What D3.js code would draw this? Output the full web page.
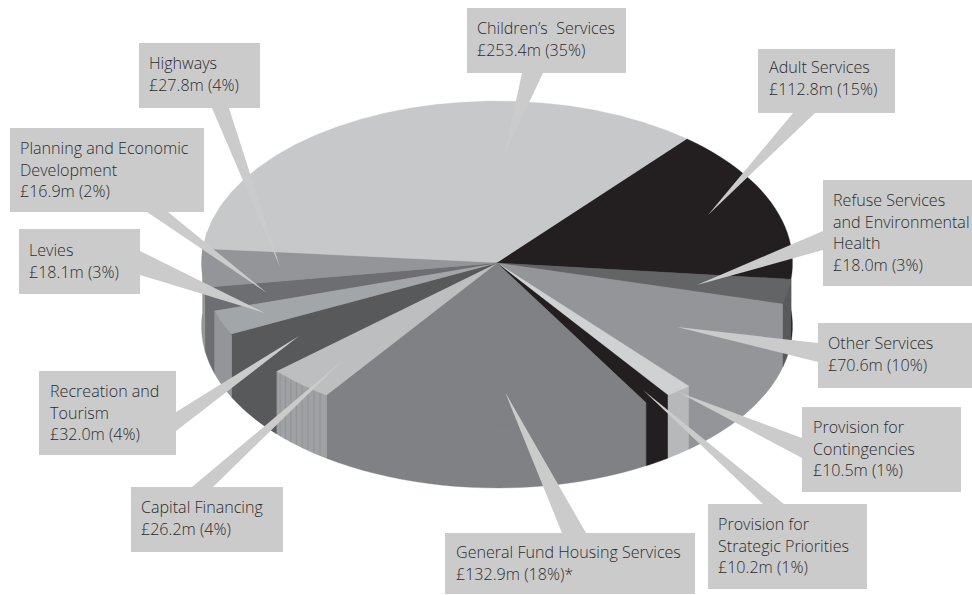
<!DOCTYPE html>
<html>
<head>
<meta charset="utf-8">
<script src="https://cdn.jsdelivr.net/npm/d3@7/dist/d3.min.js"></script>
<style>
  html, body { margin: 0; padding: 0; background: #fff; }
  svg { display: block; }
  text { font-family: "Open Sans", sans-serif; font-weight: 300; font-size: 16.1px; fill: #2b2b2b; }
</style>
</head>
<body>
<svg id="chart" width="972" height="595"></svg>
<script>
// Revenue budget by service, in £ million, clockwise from Children's Services.
const services = ["Children’s Services", "Adult Services", "Refuse Services and Environmental Health",
  "Other Services", "Provision for Contingencies", "Provision for Strategic Priorities",
  "General Fund Housing Services", "Capital Financing", "Recreation and Tourism",
  "Levies", "Planning and Economic Development", "Highways"];
const amounts = [253.4, 112.8, 18.0, 70.6, 10.5, 10.2, 132.9, 26.2, 32.0, 18.1, 16.9, 27.8];
const shares = [35, 15, 3, 10, 1, 1, 18, 4, 4, 3, 2, 4];
const shareNotes = ["", "", "", "", "", "", "*", "", "", "", "", ""];

// Callout text, one entry per line before the amount line.
const nameLines = [["Children’s  Services"], ["Adult Services"], ["Refuse Services", "and Environmental", "Health"],
  ["Other Services"], ["Provision for", "Contingencies"], ["Provision for", "Strategic Priorities"],
  ["General Fund Housing Services"], ["Capital Financing"], ["Recreation and", "Tourism"],
  ["Levies"], ["Planning and Economic", "Development"], ["Highways"]];

// Surface colours of each slice, and its rim where that differs.
const topColors = ["#c7c8ca", "#231f20", "#636466", "#939598", "#cfd1d2", "#231f20",
  "#7f8184", "#bcbec0", "#58595b", "#a3a6a8", "#6d6e71", "#939598"];
const rimColors = ["#c7c8ca", "#231f20", "#58595b", "#939598", "#b6b8ba", "#231f20",
  "#7f8184", "#9d9fa2", "#58595b", "#939598", "#6d6e71", "#939598"];

// Callout box [x0, y0, x1, y1], pointer base, pointer tip and first text baseline.
const callouts = [
  { box: [467, 8, 626, 73],   base: [[522, 73], [543, 73]],   tip: [504, 156], tx: 477, ty: 34 },
  { box: [758, 49, 895, 113], base: [[793, 113], [815, 113]], tip: [708, 215], tx: 769, ty: 73 },
  { box: [823, 180, 972, 286], base: [[823, 231], [823, 250]], tip: [697, 285], tx: 833, ty: 206 },
  { box: [818, 323, 972, 388], base: [[818, 343], [818, 362]], tip: [677, 327], tx: 828, ty: 349 },
  { box: [802, 407, 961, 492], base: [[802, 438], [802, 458]], tip: [678, 392], tx: 813, ty: 433 },
  { box: [708, 504, 867, 589], base: [[763, 504], [784, 504]], tip: [643, 390], tx: 718, ty: 530 },
  { box: [445, 533, 695, 594], base: [[562, 533], [586, 533]], tip: [505, 392], tx: 456, ty: 558 },
  { box: [131, 487, 283, 552], base: [[192, 487], [213, 487]], tip: [342, 361], tx: 141, ty: 513 },
  { box: [39, 371, 176, 455],  base: [[176, 412], [176, 431]], tip: [299, 336], tx: 50, ty: 397 },
  { box: [19, 229, 140, 294],  base: [[140, 251], [140, 275]], tip: [265, 313], tx: 29, ty: 256 },
  { box: [10, 128, 204, 212],  base: [[147, 212], [168, 212]], tip: [267, 293], tx: 20, ty: 154 },
  { box: [139, 43, 260, 108],  base: [[212, 108], [229, 108]], tip: [280, 267], tx: 149, ty: 69 }
];

const svg = d3.select("#chart");
const depth = 63;
const firstAngle = -85 * Math.PI / 180;

// The disc is a unit circle squashed into an ellipse by two linear scales.
const px = d3.scaleLinear().domain([-1, 1]).range([497 - 295.5, 497 + 295.5]);
const py = d3.scaleLinear().domain([-1, 1]).range([263 - 162, 263 + 162]);
const onRim = (a, drop = 0) => [px(Math.sin(a)), py(-Math.cos(a)) + drop];

const slices = d3.pie().sort(null).startAngle(firstAngle).endAngle(firstAngle + 2 * Math.PI)(amounts);
const sweep = (s, e) => d3.range(0, 25).map(i => s + (e - s) * i / 24);
const poly = d3.line();
const apex = [px(0), py(0)];

// Each rim shape runs up under its own sector, so no seam opens along the top edge.
const rimOrder = slices.map((s, i) => i)
  .sort((a, b) => Math.cos(slices[b].startAngle + slices[b].endAngle) - Math.cos(slices[a].startAngle + slices[a].endAngle));
rimOrder.forEach(i => {
  const s = slices[i];
  const pts = [apex, onRim(s.startAngle)]
    .concat(sweep(s.startAngle, s.endAngle).map(a => onRim(a, depth)))
    .concat([onRim(s.endAngle)]);
  svg.append("path").attr("d", poly(pts) + "Z").attr("fill", rimColors[i]).attr("stroke", rimColors[i]).attr("stroke-width", 0.3);
});

// Fine vertical ribbing on the Capital Financing rim.
const ribbed = services.indexOf("Capital Financing");
const ribStart = slices[ribbed].startAngle, ribEnd = slices[ribbed].endAngle;
d3.range(1, 26).forEach(k => {
  const a = ribStart + (ribEnd - ribStart) * k / 26;
  svg.append("path").attr("d", poly([onRim(a), onRim(a, depth)]))
    .attr("stroke", k % 3 === 0 ? "#8e9093" : "#a6a8ab").attr("stroke-width", 0.7).attr("fill", "none");
});

// Top surface of the disc.
svg.selectAll("path.top").data(slices).enter().append("path").attr("class", "top")
  .attr("d", s => poly([apex].concat(sweep(s.startAngle, s.endAngle).map(a => onRim(a)))) + "Z")
  .attr("fill", (s, i) => topColors[i]).attr("stroke", (s, i) => topColors[i]).attr("stroke-width", 0.3);

// Callout pointers and boxes, with their text.
const boxFill = "#cbcbcb";
callouts.forEach((c, i) => {
  svg.append("path").attr("d", poly([c.base[0], c.tip, c.base[1]]) + "Z").attr("fill", boxFill);
  svg.append("rect").attr("x", c.box[0]).attr("y", c.box[1])
    .attr("width", c.box[2] - c.box[0]).attr("height", c.box[3] - c.box[1]).attr("fill", boxFill);
  const lines = nameLines[i].concat(`£${amounts[i].toFixed(1)}m (${shares[i]}%)${shareNotes[i]}`);
  const t = svg.append("text").attr("x", c.tx).attr("y", c.ty);
  lines.forEach((line, k) => t.append("tspan").attr("x", c.tx).attr("dy", k ? 21.5 : 0)
    .attr("xml:space", "preserve").text(line));
});
</script>
</body>
</html>
